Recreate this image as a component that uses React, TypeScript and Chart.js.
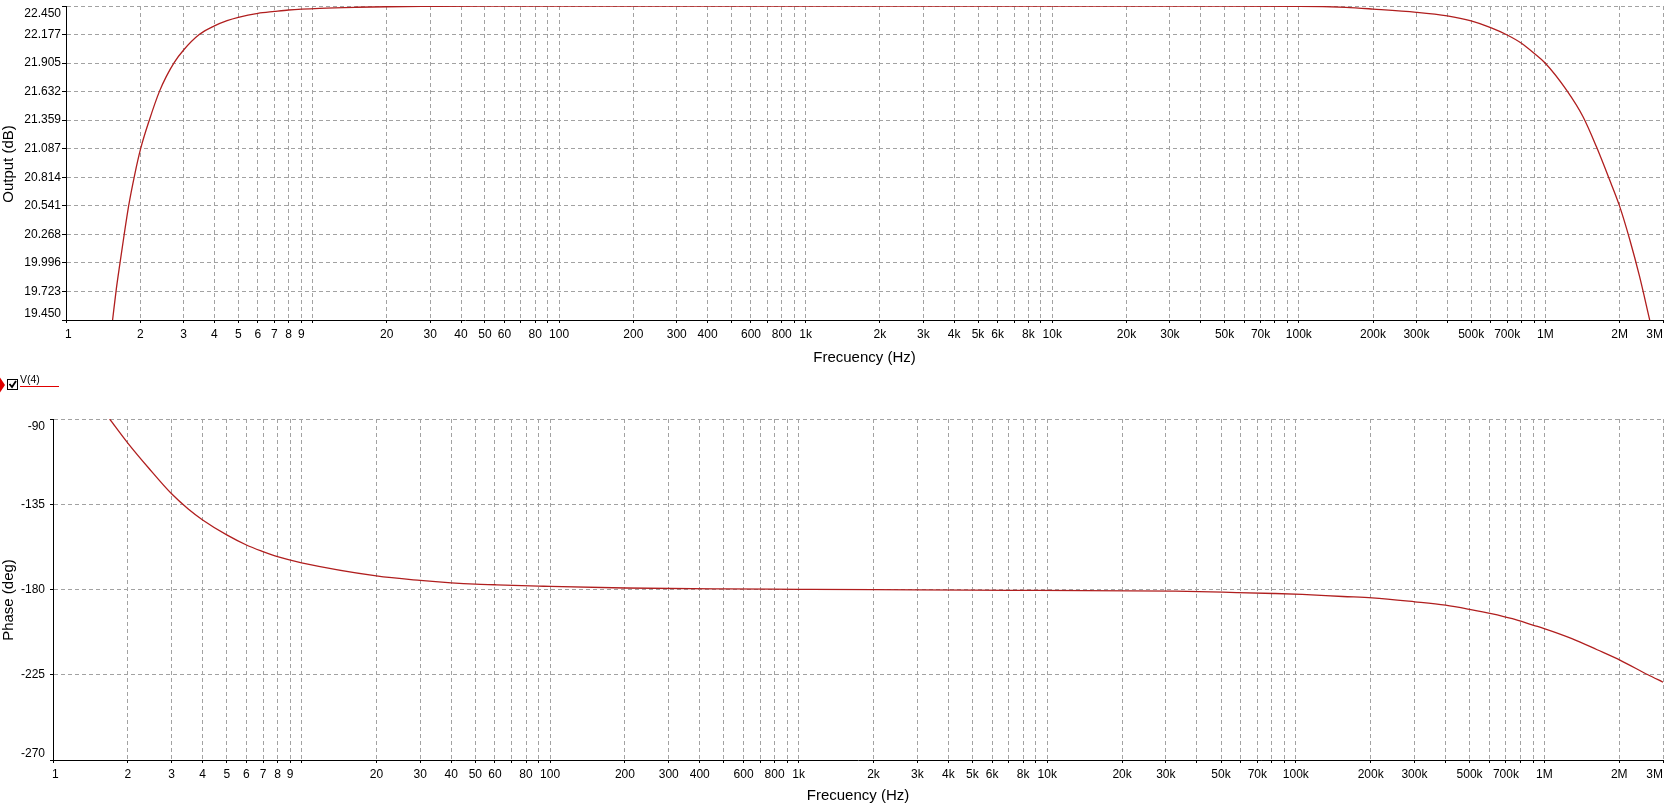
import React, { useEffect, useRef } from "react";
import { Chart, registerables } from "chart.js";
Chart.register(...registerables);

// ---- data ----
const magFreq = [1.545, 1.6, 1.656, 1.72, 1.795, 1.9, 2.008, 2.177, 2.391, 2.55, 2.75, 3, 3.47, 4, 4.5, 5, 6, 7, 8, 10.7, 15, 20, 30, 50, 100, 1000, 10000, 50000, 100700, 155000, 200000, 300000, 400000, 500000, 600000, 700000, 800000, 900000, 1000000, 1217000, 1420000, 1610000, 1820000, 2000000, 2200000, 2410000, 2650000];
const magDb = [19.45, 19.748, 19.996, 20.26, 20.541, 20.84, 21.087, 21.359, 21.632, 21.775, 21.912, 22.03, 22.177, 22.26, 22.31, 22.342, 22.38, 22.398, 22.412, 22.428, 22.438, 22.443, 22.446, 22.448, 22.448, 22.448, 22.448, 22.448, 22.447, 22.437, 22.421, 22.39, 22.355, 22.307, 22.243, 22.173, 22.094, 21.998, 21.903, 21.648, 21.394, 21.107, 20.792, 20.538, 20.217, 19.866, 19.45];

const phaseFreq = [1.69, 2, 2.43, 3, 3.5, 4, 5, 6, 7, 8, 10, 20, 30, 40, 50, 60, 90, 100, 200, 500, 1000, 2000, 5000, 8960, 32700, 57800, 81800, 106000, 154600, 203000, 301000, 400000, 506000, 611000, 743000, 905000, 998000, 1290000, 1630000, 2030000, 2610000, 3000000];
const phaseDeg = [-90, -102.7, -116.0, -129.5, -137.5, -143.3, -151.2, -156.5, -160, -162.7, -165.9, -172.8, -175.2, -176.5, -177.2, -177.5, -178.2, -178.4, -179.2, -179.7, -179.9, -180.1, -180.3, -180.5, -180.9, -181.6, -182.1, -182.6, -183.7, -184.4, -186.5, -188.3, -190.6, -192.7, -195.4, -198.9, -200.6, -205.9, -211.8, -217.5, -225, -228.9];

const xTickValues = [1, 2, 3, 4, 5, 6, 7, 8, 9, 10, 20, 30, 40, 50, 60, 70, 80, 90, 100, 200, 300, 400, 500, 600, 700, 800, 900, 1000, 2000, 3000, 4000, 5000, 6000, 7000, 8000, 9000, 10000, 20000, 30000, 40000, 50000, 60000, 70000, 80000, 90000, 100000, 200000, 300000, 400000, 500000, 600000, 700000, 800000, 900000, 1000000, 2000000, 3000000];
const xTickLabels = ["1", "2", "3", "4", "5", "6", "7", "8", "9", "", "20", "30", "40", "50", "60", "", "80", "", "100", "200", "300", "400", "", "600", "", "800", "", "1k", "2k", "3k", "4k", "5k", "6k", "", "8k", "", "10k", "20k", "30k", "", "50k", "", "70k", "", "", "100k", "200k", "300k", "", "500k", "", "700k", "", "", "1M", "2M", "3M"];

const magTickValues = [19.45, 19.7227, 19.9955, 20.2682, 20.5409, 20.8136, 21.0864, 21.3591, 21.6318, 21.9045, 22.1773, 22.45];
const magTickLabels = ["19.450", "19.723", "19.996", "20.268", "20.541", "20.814", "21.087", "21.359", "21.632", "21.905", "22.177", "22.450"];

const phaseTickValues = [-270, -225, -180, -135, -90];
const phaseTickLabels = ["-270", "-225", "-180", "-135", "-90"];

const FONT = '"Liberation Sans", Arial, sans-serif';
const LINE_COLOR = "#b01e1e";
const GRID_COLOR = "#a2a2a2";

type PanelCfg = {
  xs: number[];
  ys: number[];
  yTicks: number[];
  yLabels: string[];
  yMin: number;
  yMax: number;
  padTop: number;
  xAxisHeight: number;
  yAxisWidth: number;
  yTickLen: number;
  yLabelGap: number;
  xTitle: string;
  xTitleOffset: number;
  yTitle: string;
  yTitleX: number;
  yTitleY: number;
};

function makeChart(canvas: HTMLCanvasElement, cfg: PanelCfg) {
  const textPlugin = {
    id: "axisText",
    afterDraw(chart: any) {
      const ctx = chart.ctx as CanvasRenderingContext2D;
      const xs = chart.scales.x;
      const ys = chart.scales.y;
      const area = chart.chartArea;
      ctx.save();
      ctx.fillStyle = "#000";
      ctx.font = `12px ${FONT}`;
      ctx.textBaseline = "top";
      const n = xTickValues.length;
      xTickValues.forEach((v, i) => {
        const t = xTickLabels[i];
        if (!t) return;
        const px = xs.getPixelForValue(v);
        ctx.textAlign = i === 0 ? "left" : i === n - 1 ? "right" : "center";
        ctx.fillText(t, i === 0 ? px - 1 : px, area.bottom + 9);
      });
      ctx.textAlign = "right";
      const m = cfg.yTicks.length;
      cfg.yTicks.forEach((v, i) => {
        const py = ys.getPixelForValue(v);
        let yy = py;
        if (i === m - 1) {
          ctx.textBaseline = "top";
          yy = py + 2;
        } else if (i === 0) {
          ctx.textBaseline = "alphabetic";
          yy = py - 3.5;
        } else {
          ctx.textBaseline = "middle";
        }
        ctx.fillText(cfg.yLabels[i], area.left - cfg.yLabelGap, yy);
      });
      ctx.font = `15px ${FONT}`;
      ctx.textAlign = "center";
      ctx.textBaseline = "middle";
      ctx.fillText(cfg.xTitle, (area.left + area.right) / 2, area.bottom + cfg.xTitleOffset);
      ctx.translate(cfg.yTitleX, cfg.yTitleY);
      ctx.rotate(-Math.PI / 2);
      ctx.fillText(cfg.yTitle, 0, 0);
      ctx.restore();
    },
  };

  return new Chart(canvas, {
    type: "line",
    data: {
      datasets: [
        {
          data: cfg.xs.map((x, i) => ({ x, y: cfg.ys[i] })),
          borderColor: LINE_COLOR,
          borderWidth: 1.3,
          pointRadius: 0,
          fill: false,
          cubicInterpolationMode: "monotone",
        },
      ],
    },
    options: {
      animation: false,
      responsive: false,
      maintainAspectRatio: false,
      events: [],
      layout: { padding: { top: cfg.padTop, right: 1, left: 0, bottom: 0 } },
      plugins: { legend: { display: false }, tooltip: { enabled: false } },
      scales: {
        x: {
          type: "logarithmic",
          min: 1,
          max: 3000000,
          afterBuildTicks: (s: any) => {
            s.ticks = xTickValues.map((v) => ({ value: v }));
          },
          afterFit: (s: any) => {
            s.height = cfg.xAxisHeight;
          },
          ticks: { display: false },
          grid: { color: GRID_COLOR, lineWidth: 1, drawTicks: true, tickLength: 3, tickColor: "#000", tickWidth: 1 },
          border: { display: true, color: "#000", width: 1, dash: [4, 3] },
        },
        y: {
          type: "linear",
          min: cfg.yMin,
          max: cfg.yMax,
          afterBuildTicks: (s: any) => {
            s.ticks = cfg.yTicks.map((v) => ({ value: v }));
          },
          afterFit: (s: any) => {
            s.width = cfg.yAxisWidth;
          },
          ticks: { display: false },
          grid: { color: GRID_COLOR, lineWidth: 1, drawTicks: true, tickLength: cfg.yTickLen, tickColor: "#000", tickWidth: 1 },
          border: { display: true, color: "#000", width: 1, dash: [4, 3] },
        },
      },
    } as any,
    plugins: [textPlugin],
  });
}

export default function App() {
  const topRef = useRef<HTMLCanvasElement>(null);
  const botRef = useRef<HTMLCanvasElement>(null);

  useEffect(() => {
    document.body.style.margin = "0";
    const c1 = makeChart(topRef.current!, {
      xs: magFreq,
      ys: magDb,
      yTicks: magTickValues,
      yLabels: magTickLabels,
      yMin: 19.45,
      yMax: 22.45,
      padTop: 6,
      xAxisHeight: 52,
      yAxisWidth: 66,
      yTickLen: 4,
      yLabelGap: 5,
      xTitle: "Frecuency (Hz)",
      xTitleOffset: 38,
      yTitle: "Output (dB)",
      yTitleX: 8.5,
      yTitleY: 164,
    });
    const c2 = makeChart(botRef.current!, {
      xs: phaseFreq,
      ys: phaseDeg,
      yTicks: phaseTickValues,
      yLabels: phaseTickLabels,
      yMin: -270,
      yMax: -90,
      padTop: 47,
      xAxisHeight: 49,
      yAxisWidth: 53,
      yTickLen: 3,
      yLabelGap: 8,
      xTitle: "Frecuency (Hz)",
      xTitleOffset: 36,
      yTitle: "Phase (deg)",
      yTitleX: 8.5,
      yTitleY: 228,
    });
    return () => {
      c1.destroy();
      c2.destroy();
    };
  }, []);

  return (
    <div style={{ position: "relative", width: 1664, height: 809, background: "#fff", overflow: "hidden" }}>
      <canvas ref={topRef} width={1664} height={372} style={{ position: "absolute", left: 0, top: 0, display: "block" }} />
      <canvas ref={botRef} width={1664} height={437} style={{ position: "absolute", left: 0, top: 372, display: "block" }} />
      <svg width={70} height={24} style={{ position: "absolute", left: 0, top: 371 }}>
        <polygon points="0,6.5 5,14 0,21.5" fill="#e00000" />
        <rect x={7.5} y={8.5} width={10} height={10} fill="#fff" stroke="#000" strokeWidth={1} />
        <polyline points="9.5,13 12,16 16,10" fill="none" stroke="#000" strokeWidth={1.8} />
        <text x={20} y={12} fontFamily={FONT} fontSize={10.5} fill="#000">V(4)</text>
        <line x1={20} y1={15.5} x2={59} y2={15.5} stroke="#e00000" strokeWidth={1} />
      </svg>
    </div>
  );
}
